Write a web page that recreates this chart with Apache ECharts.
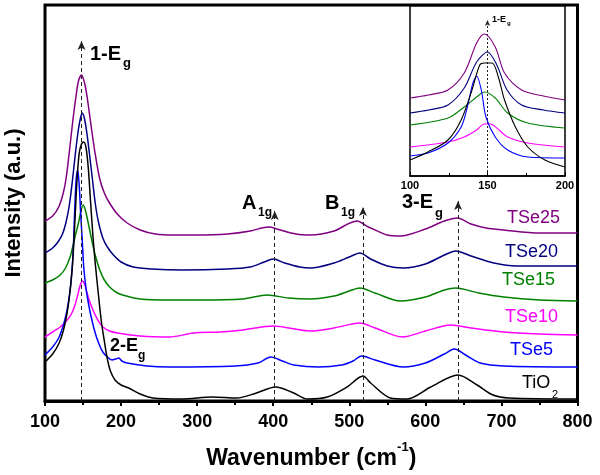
<!DOCTYPE html>
<html>
<head>
<meta charset="utf-8">
<script src="https://cdn.jsdelivr.net/npm/echarts@6/dist/echarts.min.js"></script>
<style>
  html, body { margin: 0; padding: 0; background: #fff; }
  #chart { width: 600px; height: 475px; }
</style>
</head>
<body>
<div id="chart"></div>
<script>
// Raman spectra, stacked with offsets (arbitrary units). [wavenumber, intensity]
const tse25 = [[100,180],[110,185],[118,194],[124,208],[128,224],[133,256],[137,283],[141,306],[144,320],[148,326],[152,318],[155,306],[159,284],[163,262],[166,247],[172,222],[178,208],[184,199],[195,187],[208,178],[225,171],[245,167],[270,166],[300,166],[340,167],[370,170],[385,173],[395,174],[405,172],[430,167],[449,166],[480,170],[498,177],[510,180],[525,174],[534,171],[550,166],[567,165],[600,172],[625,180],[642,183],[660,177],[680,173],[703,171],[750,168],[800,168]];
const tse20 = [[100,148],[110,153],[117,159],[123,167],[128,180],[132,196],[136,220],[140,248],[144,272],[147,284],[149,288],[152,282],[155,268],[158,250],[162,224],[166,198],[170,180],[176,163],[182,154],[190,146],[200,139],[216,134],[240,132],[280,131],[340,132],[370,134],[388,139],[400,142],[415,138],[435,134],[449,133],[480,138],[500,144],[514,148],[528,142],[550,135],[571,133],[600,137],[625,146],[640,150],[660,145],[690,138],[720,135],[760,135],[800,135]];
const tse15 = [[100,118],[110,121],[120,126],[127,133],[133,144],[137,156],[140,166],[144,178],[147,189],[150,196],[153,191],[156,181],[159,170],[162,159],[166,146],[172,131],[178,121],[185,114],[193,109],[202,106],[225,102],[264,101],[300,101],[360,102],[392,106],[420,103],[449,102],[480,105],[500,110],[514,113],[534,108],[567,100],[600,104],[625,111],[640,113],[670,108],[703,104],[750,101],[800,100]];
const tse10 = [[100,64],[110,69],[120,74],[128,80],[134,86],[139,95],[143,106],[146,115],[149,120],[152,117],[155,109],[158,101],[162,93],[166,86],[171,79],[176,74],[185,70],[195,68],[225,65],[264,64],[295,68],[330,69],[360,71],[400,75],[449,70],[480,73],[514,78],[534,73],[570,64],[600,70],[633,76],[660,73],[703,69],[750,67],[800,66]];
const tse5 = [[100,46],[110,54],[118,63],[125,78],[130,95],[134,118],[137,148],[139,190],[141,222],[143,231],[145,215],[147,186],[149,160],[151,133],[154,112],[157,98],[161,83],[166,68],[171,57],[176,49],[182,44],[188,41],[193,42],[197,43],[201,40],[208,38],[234,35],[264,34],[350,35],[380,38],[397,44],[412,40],[427,36],[460,34],[490,36],[505,40],[516,45],[534,41],[571,34],[600,38],[625,47],[638,52],[655,45],[672,38],[703,35],[800,34]];
const tio2 = [[100,39],[110,47],[118,57],[124,70],[129,88],[133,110],[136,135],[139,175],[142,220],[145,248],[148,257],[151,259],[154,253],[157,232],[160,198],[163,165],[166,138],[170,108],[174,80],[178,60],[182,42],[186,30],[192,21],[200,16],[210,13],[225,7],[242,3],[280,2],[320,4],[352,3],[378,8],[403,14],[427,8],[445,2],[471,4],[497,14],[518,25],[528,18],[554,3],[576,2],[607,14],[643,26],[668,16],[689,6],[710,3],[800,2]];

// inset (100-200 cm-1), separate offsets
const insTse25 = [[100,78],[112,81],[124.5,86],[135,103],[143,133],[148,142],[155,129],[161,103],[172,86],[186,80],[200,76]];
const insTse20 = [[100,63],[112,66],[124.5,71],[135,88],[143,114],[150,124],[156,111],[162.6,86],[172,71],[186,66],[200,63]];
const insTse15 = [[100,51],[124.5,58],[135,69],[143,79],[148,84],[155,78],[163,63],[176,53],[200,48]];
const insTse10 = [[100,29],[124.5,34],[135,39],[143,46],[148,52],[152,52],[156,48],[163,39],[176,33],[200,29]];
const insTse5 = [[100,20],[111.6,23],[124.5,33],[133,49],[137,69],[140.6,93],[143,100],[146,86],[149,59],[155,39],[163,26],[176,19],[200,18]];
const insTio2 = [[100,16],[111.6,24],[124.5,36],[133,56],[140,86],[145,111],[148,113],[153,113],[157,99],[161,76],[168,49],[176,29],[187,16],[200,9]];

const names = ['TSe25', 'TSe20', 'TSe15', 'TSe10', 'TSe5', 'TiO2'];
const colors = ['#800080', '#000080', '#008000', '#ff00ff', '#0000ff', '#000000'];
const mainData = [tse25, tse20, tse15, tse10, tse5, tio2];
const insetData = [insTse25, insTse20, insTse15, insTse10, insTse5, insTio2];

const peakPos = [148, 402, 518, 643];
const peakTop = [360, 190, 194, 200];
const xTicks = [100, 800, 100];
const insetTicks = [100, 200, 50];

const FONT = 'Liberation Sans, Arial, sans-serif';
const chart = echarts.init(document.getElementById('chart'));

const series = [];
mainData.forEach((d, i) => {
  series.push({
    name: names[i], type: 'line', data: d, xAxisIndex: 0, yAxisIndex: 0,
    showSymbol: false, smooth: 0.3,
    lineStyle: { color: colors[i], width: 1.5 }, itemStyle: { color: colors[i] },
    z: 3
  });
});
insetData.forEach((d, i) => {
  series.push({
    name: names[i] + '_inset', type: 'line', data: d, xAxisIndex: 1, yAxisIndex: 1,
    showSymbol: false, smooth: 0.3,
    lineStyle: { color: colors[i], width: 1.1 }, itemStyle: { color: colors[i] },
    z: 6
  });
});
// dashed peak markers
series[5].markLine = {
  silent: true, animation: false, symbol: ['none', 'arrow'], symbolSize: [6, 9],
  label: { show: false },
  lineStyle: { color: '#222', type: [4, 3], width: 1 },
  data: peakPos.map((p, i) => [{ coord: [p, 0] }, { coord: [p, peakTop[i]] }])
};
series[11].markLine = {
  silent: true, animation: false, symbol: ['none', 'arrow'], symbolSize: [4, 6],
  label: { show: false },
  lineStyle: { color: '#222', type: [2, 2], width: 1 },
  data: [[{ coord: [150, 0] }, { coord: [150, 156] }]]
};

function txt(x, y, text, size, color, bold) {
  return {
    type: 'text', x: x, y: y, z: 20,
    style: {
      text: text, fill: color || '#000',
      font: (bold ? 'bold ' : '') + size + 'px ' + FONT,
      textAlign: 'left', textVerticalAlign: 'middle', align: 'left', verticalAlign: 'middle'
    }
  };
}

chart.setOption({
  animation: false,
  grid: [
    { left: 45, top: 5, right: 22.5, bottom: 74, outerBoundsMode: 'none', containLabel: false,
      show: true, borderColor: '#000', borderWidth: 3, backgroundColor: 'transparent' },
    { left: 410, top: 6, width: 155, height: 170, outerBoundsMode: 'none', containLabel: false,
      show: true, borderColor: '#000', borderWidth: 1.5, backgroundColor: '#fff', z: 5 }
  ],
  xAxis: [
    {
      type: 'value', gridIndex: 0, min: xTicks[0], max: xTicks[1], interval: xTicks[2],
      name: '{a|Wavenumber (cm}{s|-1}{a|)}', nameLocation: 'middle', nameGap: 40,
      nameTextStyle: { rich: {
        a: { fontSize: 23, fontWeight: 'bold', fontFamily: FONT, color: '#000', lineHeight: 36 },
        s: { fontSize: 13, fontWeight: 'bold', fontFamily: FONT, color: '#000', lineHeight: 13, verticalAlign: 'top' }
      } },
      axisLine: { show: true, lineStyle: { color: '#000', width: 3 } },
      axisTick: { show: true, inside: false, length: 5, lineStyle: { color: '#000', width: 2 } },
      minorTick: { show: true, splitNumber: 2, length: 4, lineStyle: { color: '#000', width: 2 } },
      axisLabel: { color: '#000', fontSize: 18, fontWeight: 'bold', fontFamily: FONT, margin: 12 },
      splitLine: { show: false }
    },
    {
      type: 'value', gridIndex: 1, min: insetTicks[0], max: insetTicks[1], interval: insetTicks[2],
      axisLine: { show: true, lineStyle: { color: '#000', width: 1.5 } },
      axisTick: { show: true, inside: true, length: 4, lineStyle: { color: '#000', width: 1 } },
      minorTick: { show: true, splitNumber: 2, length: 3, lineStyle: { color: '#000', width: 1 } },
      axisLabel: { color: '#000', fontSize: 11, fontWeight: 'bold', fontFamily: FONT, margin: 4 },
      splitLine: { show: false }, z: 6
    }
  ],
  yAxis: [
    {
      type: 'value', gridIndex: 0, min: 0, max: 396,
      name: 'Intensity (a.u.)', nameLocation: 'middle', nameGap: 20,
      nameTextStyle: { fontSize: 22, fontWeight: 'bold', fontFamily: FONT, color: '#000' },
      axisLine: { show: false }, axisTick: { show: false }, axisLabel: { show: false },
      splitLine: { show: false }
    },
    {
      type: 'value', gridIndex: 1, min: 0, max: 170,
      axisLine: { show: false }, axisTick: { show: false }, axisLabel: { show: false },
      splitLine: { show: false }
    }
  ],
  series: series,
  graphic: [
    txt(90, 54.5, '1-E', 20, '#000', true), txt(123, 63, 'g', 13, '#000', true),
    txt(242, 203.5, 'A', 20, '#000', true), txt(258, 213, '1g', 12, '#000', true),
    txt(325, 203.5, 'B', 20, '#000', true), txt(341, 213, '1g', 12, '#000', true),
    txt(402, 202.5, '3-E', 20, '#000', true), txt(435, 213, 'g', 13, '#000', true),
    txt(110, 346.5, '2-E', 18, '#000', true), txt(138, 356, 'g', 12, '#000', true),
    txt(492, 19.5, '1-E', 9, '#000', true), txt(507, 23, 'g', 6, '#000', true),
    txt(507, 218, 'TSe25', 18, colors[0]),
    txt(505, 252, 'TSe20', 18, colors[1]),
    txt(502, 280, 'TSe15', 18, colors[2]),
    txt(505, 317, 'TSe10', 18, colors[3]),
    txt(510, 350, 'TSe5', 18, colors[4]),
    txt(522, 383, 'TiO', 18, colors[5]), txt(552, 395, '2', 11, colors[5])
  ]
});
</script>
</body>
</html>
